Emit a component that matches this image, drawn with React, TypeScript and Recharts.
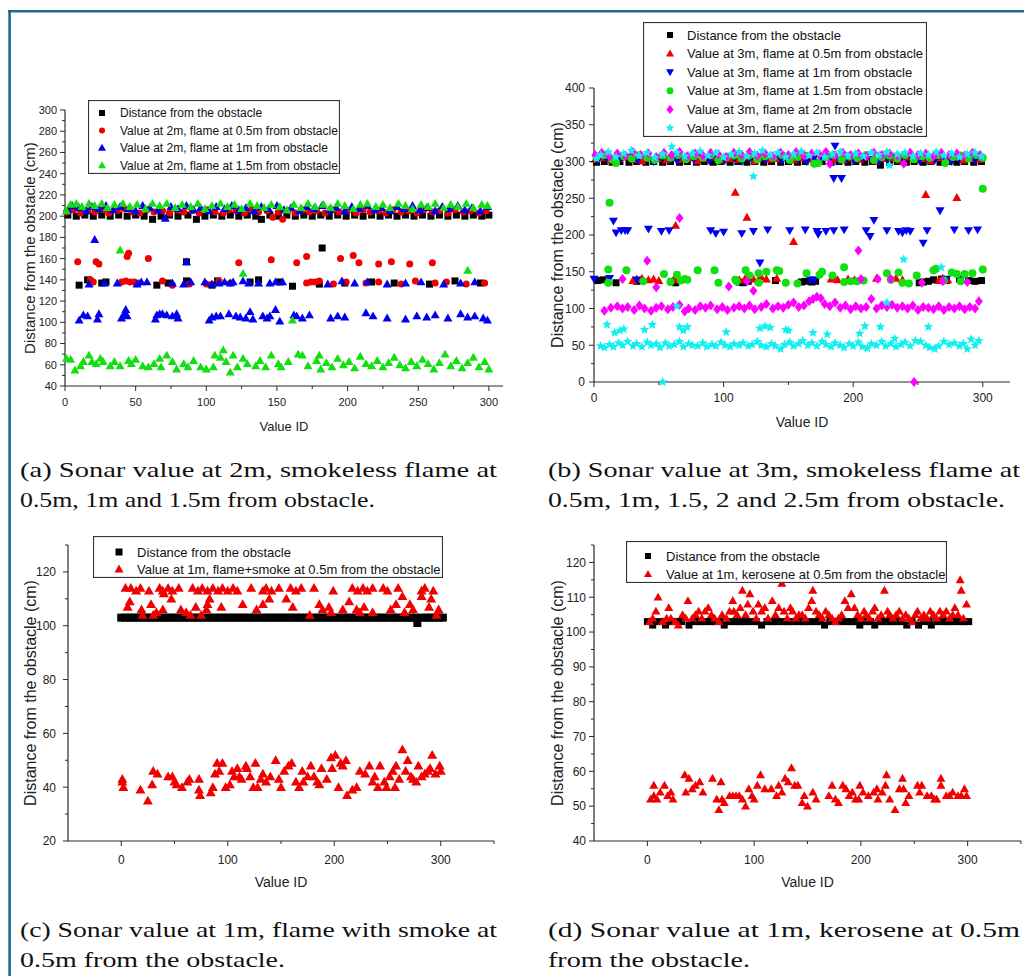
import React from "react";
import { ScatterChart, Scatter, XAxis, YAxis, Legend } from "recharts";

type Pair = [number, number];
type Kind = "square" | "circle" | "up" | "down" | "diamond" | "star";

const SANS = '"Liberation Sans", Arial, Helvetica, sans-serif';
const SERIF = '"Liberation Serif", "Times New Roman", serif';
const AX = "#2a2a2a";
const BLACK = "#000000";
const RED = "#f00000";
const BLUE = "#0000f0";
const GREEN = "#10e010";
const MAGENTA = "#ff00ff";
const CYAN = "#10f0f0";

// ---------- (a) sonar at 2m ----------
const aDistance: Pair[] = [
  [2, 201], [8, 200], [14, 201], [20, 200], [26, 201], [32, 200], [38, 201], [44, 200], [50, 201], [56, 200],
  [62, 197], [68, 200], [74, 201], [80, 200], [87, 201], [93, 197], [99, 200], [105, 201], [111, 200], [117, 201],
  [123, 200], [129, 201], [135, 200], [139, 197], [145, 201], [151, 200], [157, 201], [163, 200], [169, 201], [175, 200],
  [181, 201], [187, 200], [193, 201], [199, 200], [205, 201], [211, 200], [217, 201], [223, 200], [229, 201], [235, 200],
  [241, 201], [247, 200], [253, 201], [259, 200], [265, 201], [271, 200], [277, 201], [283, 200], [289, 201], [295, 200],
  [300, 201],
  [10, 135], [16, 140], [26, 137], [29, 138], [65, 135], [73, 137], [86, 157], [86, 139], [104, 135], [108, 139],
  [131, 138], [137, 140], [152, 138], [161, 134], [180, 136], [182, 170], [198, 137], [217, 138], [233, 137], [258, 136],
  [276, 139], [294, 137],
];
const aRed: Pair[] = [
  [1, 204], [6, 206], [11, 203], [16, 205], [21, 204], [27, 206], [31, 203], [37, 205], [42, 207], [48, 204],
  [53, 203], [58, 206], [63, 204], [69, 205], [74, 203], [79, 206], [84, 204], [90, 205], [95, 203], [101, 206],
  [106, 204], [112, 203], [116, 206], [121, 205], [127, 203], [132, 206], [137, 204], [143, 205], [147, 199], [151, 204],
  [154, 197], [158, 205], [163, 203], [168, 206], [173, 204], [178, 205], [184, 203], [189, 206], [194, 204], [200, 205],
  [206, 203], [211, 206], [216, 204], [222, 205], [227, 203], [232, 206], [238, 204], [243, 205], [249, 203], [254, 206],
  [260, 204], [265, 205], [271, 203], [276, 206], [282, 204], [287, 205], [293, 203], [298, 205],
  [9, 157], [22, 157], [24, 155], [44, 162], [45, 165], [59, 160], [123, 156], [146, 159], [164, 156], [171, 162],
  [195, 160], [204, 163], [208, 156], [222, 155], [231, 157], [244, 155], [260, 156],
  [18, 140], [20, 138], [40, 138], [43, 139], [46, 138], [49, 138], [52, 137], [69, 139], [76, 135], [88, 136],
  [100, 136], [109, 139], [117, 137], [171, 137], [174, 138], [177, 138], [180, 139], [190, 136], [199, 138], [213, 137],
  [222, 138], [238, 136], [248, 139], [262, 137], [270, 138], [284, 136], [297, 137],
];
const aBlue: Pair[] = [
  [2, 206], [5, 210], [10, 208], [15, 205], [19, 209], [24, 207], [29, 210], [34, 206], [39, 209], [45, 207],
  [50, 205], [55, 210], [60, 208], [66, 206], [71, 198], [75, 209], [80, 207], [86, 210], [91, 206], [96, 208],
  [102, 205], [107, 209], [113, 207], [118, 210], [123, 206], [128, 208], [134, 205], [139, 209], [144, 207], [150, 210],
  [155, 206], [160, 208], [166, 205], [171, 209], [176, 207], [182, 210], [187, 206], [192, 208], [198, 205], [203, 209],
  [208, 207], [214, 210], [219, 206], [224, 208], [230, 205], [235, 209], [240, 207], [246, 210], [251, 206], [256, 208],
  [262, 205], [267, 209], [272, 207], [278, 210], [283, 206], [288, 208], [294, 205], [299, 209],
  [21, 178],
  [17, 136], [28, 137], [37, 137], [51, 136], [54, 138], [58, 138], [76, 137], [84, 136], [86, 157], [89, 138],
  [99, 138], [104, 136], [109, 137], [113, 138], [117, 137], [119, 138], [126, 139], [130, 137], [137, 137], [145, 137],
  [149, 138], [154, 138], [186, 136], [196, 139], [205, 137], [214, 138], [228, 136], [241, 137], [252, 138], [268, 136],
  [280, 137], [290, 138],
  [10, 102], [13, 107], [16, 106], [23, 103], [24, 108], [40, 104], [42, 108], [43, 112], [44, 106], [64, 103],
  [65, 107], [67, 108], [69, 108], [72, 107], [76, 106], [79, 108], [80, 104], [102, 102], [104, 105], [107, 106],
  [110, 106], [116, 108], [121, 106], [124, 105], [128, 104], [131, 110], [133, 103], [140, 106], [143, 104], [145, 106],
  [149, 112], [152, 101], [162, 107], [164, 106], [168, 104], [173, 107], [188, 104], [193, 106], [198, 105], [213, 109],
  [218, 106], [228, 104], [241, 103], [249, 106], [256, 105], [262, 107], [271, 104], [280, 108], [285, 105], [290, 106],
  [296, 104], [299, 102],
];
const aGreen: Pair[] = [
  [1, 205], [4, 211], [8, 212], [12, 209], [17, 212], [21, 210], [26, 212], [30, 208], [35, 211], [41, 212],
  [46, 209], [51, 211], [57, 207], [62, 212], [67, 210], [72, 212], [78, 208], [83, 211], [89, 209], [94, 212],
  [99, 207], [104, 210], [110, 212], [115, 209], [120, 211], [125, 207], [131, 212], [136, 210], [141, 208], [146, 211],
  [152, 209], [157, 206], [162, 211], [167, 208], [172, 212], [177, 209], [183, 211], [188, 208], [193, 212], [198, 210],
  [204, 207], [209, 211], [214, 212], [220, 209], [225, 211], [230, 208], [236, 212], [241, 210], [246, 207], [252, 211],
  [257, 209], [262, 212], [268, 208], [273, 211], [278, 209], [284, 212], [289, 208], [295, 211], [299, 210],
  [39, 168], [126, 146], [161, 102], [285, 149],
  [1, 66], [4, 65], [7, 55], [11, 59], [13, 63], [17, 69], [19, 63], [22, 61], [25, 66], [27, 63],
  [32, 59], [35, 63], [39, 59], [45, 64], [47, 61], [50, 65], [55, 59], [59, 58], [63, 61], [67, 66],
  [68, 58], [72, 69], [76, 63], [79, 56], [84, 61], [87, 58], [91, 64], [96, 58], [100, 56], [105, 58],
  [106, 69], [110, 67], [112, 74], [114, 63], [117, 53], [119, 69], [122, 58], [126, 66], [129, 61], [135, 59],
  [138, 64], [142, 58], [146, 69], [151, 61], [153, 58], [158, 63], [165, 70], [168, 69], [172, 59], [178, 64],
  [181, 56], [180, 69], [185, 62], [189, 58], [193, 66], [197, 60], [201, 63], [205, 57], [209, 68], [213, 61],
  [217, 59], [221, 64], [225, 58], [229, 62], [233, 67], [237, 60], [241, 57], [245, 63], [249, 59], [253, 65],
  [257, 61], [261, 56], [265, 62], [269, 70], [273, 59], [277, 64], [281, 57], [285, 62], [289, 67], [293, 58],
  [297, 63], [300, 56],
];

// ---------- (b) sonar at 3m ----------
const bDistance: Pair[] = [
  [2, 299], [8, 300], [14, 299], [20, 300], [27, 299], [33, 300], [40, 299], [46, 300], [53, 299], [59, 300],
  [66, 299], [72, 300], [79, 299], [85, 300], [92, 299], [98, 300], [105, 299], [111, 300], [118, 299], [124, 300],
  [131, 299], [137, 300], [144, 299], [150, 300], [157, 299], [163, 300], [170, 299], [176, 300], [183, 299], [189, 300],
  [196, 299], [202, 300], [209, 299], [215, 300], [221, 295], [228, 299], [234, 300], [241, 299], [247, 300], [254, 299],
  [260, 300], [267, 299], [273, 300], [280, 299], [286, 300], [293, 299], [299, 300],
  [3, 138], [7, 139], [17, 135], [33, 137], [35, 138], [60, 137], [63, 135], [112, 136], [115, 135], [119, 137],
  [140, 138], [160, 136], [163, 137], [168, 136], [171, 137], [251, 135], [254, 136], [258, 137], [262, 139], [268, 140],
  [272, 138], [282, 140], [289, 138], [294, 137], [299, 138],
];
const bRed: Pair[] = [
  [1, 303], [7, 305], [13, 302], [19, 304], [25, 306], [31, 303], [37, 301], [43, 305], [49, 304], [56, 302],
  [62, 306], [68, 303], [74, 305], [80, 301], [87, 304], [93, 306], [99, 302], [105, 304], [112, 303], [118, 306],
  [124, 301], [130, 305], [136, 303], [143, 304], [149, 306], [155, 302], [161, 305], [167, 303], [174, 301], [180, 306],
  [186, 304], [192, 302], [198, 305], [205, 303], [211, 306], [217, 301], [223, 304], [229, 305], [236, 302], [242, 306],
  [248, 303], [254, 304], [260, 301], [267, 305], [273, 303], [279, 306], [285, 302], [291, 304], [298, 303],
  [63, 213], [109, 258], [118, 224], [154, 191], [256, 255], [280, 251], [185, 143],
  [30, 138], [33, 140], [37, 141], [42, 139], [46, 140], [50, 138], [62, 141], [65, 139], [112, 139], [117, 142],
  [123, 140], [127, 139], [129, 143], [133, 140], [141, 141], [183, 140], [188, 139], [196, 140], [201, 139], [218, 141],
  [233, 141], [238, 139], [266, 138], [269, 141], [273, 139],
];
const bBlue: Pair[] = [
  [3, 302], [9, 305], [15, 301], [21, 304], [27, 306], [34, 302], [40, 304], [46, 300], [52, 305], [58, 303],
  [64, 301], [70, 305], [77, 303], [83, 306], [89, 301], [95, 304], [101, 302], [108, 305], [114, 300], [120, 304],
  [126, 306], [132, 302], [139, 304], [145, 301], [151, 305], [157, 303], [164, 300], [170, 305], [176, 303], [182, 306],
  [186, 321], [189, 302], [195, 304], [201, 301], [207, 305], [214, 303], [220, 300], [226, 304], [232, 306], [238, 302],
  [245, 305], [251, 301], [257, 304], [263, 302], [269, 305], [276, 300], [282, 304], [288, 306], [294, 302], [299, 305],
  [185, 277], [191, 277],
  [15, 219], [17, 203], [21, 206], [24, 206], [26, 206], [42, 208], [52, 205], [58, 206], [90, 206], [94, 202],
  [100, 204], [114, 202], [123, 205], [134, 207], [151, 206], [163, 207], [172, 205], [173, 201], [179, 205], [185, 206],
  [193, 207], [210, 206], [213, 198], [216, 220], [226, 206], [235, 205], [238, 203], [241, 206], [244, 205], [254, 189],
  [257, 206], [267, 233], [278, 207], [289, 206], [296, 207],
  [0, 140], [12, 141], [33, 139], [128, 162], [167, 139], [170, 139], [272, 140], [283, 139],
];
const bGreen: Pair[] = [
  [2, 306], [8, 309], [14, 303], [17, 298], [23, 307], [29, 304], [35, 309], [41, 305], [47, 302], [53, 308],
  [59, 305], [65, 309], [71, 303], [77, 307], [84, 305], [90, 309], [96, 302], [102, 306], [108, 308], [114, 304],
  [120, 309], [126, 303], [132, 307], [138, 305], [145, 309], [151, 302], [157, 306], [163, 308], [170, 297], [173, 298],
  [179, 306], [185, 309], [191, 303], [197, 307], [203, 305], [210, 309], [216, 302], [222, 306], [228, 308], [234, 304],
  [240, 309], [247, 303], [253, 307], [259, 305], [265, 309], [271, 298], [277, 306], [283, 308], [289, 304], [295, 309],
  [300, 305],
  [11, 153], [11, 135], [12, 244], [25, 152], [38, 137], [54, 147], [59, 136], [64, 146], [67, 138], [70, 140],
  [72, 139], [80, 152], [93, 152], [96, 135], [109, 139], [110, 137], [117, 152], [120, 145], [127, 148], [127, 135],
  [133, 150], [141, 152], [143, 151], [148, 135], [157, 134], [164, 148], [174, 146], [176, 150], [184, 145], [193, 156],
  [193, 136], [198, 137], [203, 137], [208, 138], [226, 148], [229, 139], [235, 149], [238, 135], [243, 134], [249, 145],
  [262, 152], [264, 154], [270, 138], [276, 149], [280, 147], [283, 137], [286, 147], [292, 148], [300, 153], [300, 263],
];
const bMagenta: Pair[] = [
  [1, 309], [6, 312], [12, 307], [18, 311], [24, 308], [30, 313], [36, 309], [42, 311], [48, 306], [54, 312],
  [60, 309], [66, 313], [72, 307], [78, 311], [84, 308], [90, 312], [96, 310], [102, 306], [108, 312], [114, 309],
  [120, 313], [126, 308], [132, 311], [138, 307], [144, 312], [150, 309], [156, 313], [162, 308], [168, 311], [174, 310],
  [179, 313], [182, 297], [186, 308], [192, 312], [198, 309], [204, 311], [210, 307], [216, 312], [222, 309], [228, 311],
  [234, 308], [239, 297], [244, 312], [250, 309], [256, 311], [262, 307], [268, 312], [274, 309], [280, 311], [286, 308],
  [292, 312], [298, 309],
  [66, 223], [41, 165], [204, 179], [48, 129], [104, 130], [123, 124], [22, 140], [118, 137], [206, 140], [219, 140],
  [229, 140], [253, 135], [269, 137], [288, 136], [247, 0],
  [8, 97], [13, 101], [18, 103], [22, 100], [26, 102], [31, 98], [35, 104], [39, 100], [44, 97], [48, 101],
  [52, 103], [57, 99], [61, 102], [66, 105], [70, 96], [73, 100], [78, 98], [82, 103], [86, 101], [90, 104],
  [95, 99], [99, 102], [103, 98], [108, 101], [112, 103], [116, 100], [120, 104], [124, 99], [129, 102], [133, 106],
  [138, 100], [142, 103], [146, 101], [150, 105], [154, 108], [158, 102], [162, 104], [166, 110], [169, 113], [172, 116],
  [175, 114], [178, 106], [182, 103], [186, 108], [190, 101], [194, 104], [198, 99], [202, 103], [206, 100], [210, 102],
  [214, 113], [218, 100], [222, 104], [226, 102], [230, 105], [234, 101], [238, 103], [242, 100], [246, 104], [250, 98],
  [254, 102], [258, 101], [262, 99], [266, 103], [270, 98], [274, 102], [278, 100], [282, 103], [286, 99], [290, 102],
  [294, 100], [297, 110],
];
const bCyan: Pair[] = [
  [2, 304], [5, 309], [11, 313], [17, 306], [23, 311], [29, 315], [35, 308], [41, 312], [47, 305], [53, 310],
  [60, 320], [64, 312], [70, 307], [76, 311], [82, 314], [88, 308], [94, 312], [100, 306], [106, 310], [112, 313],
  [118, 307], [124, 311], [130, 315], [136, 309], [142, 312], [148, 306], [154, 310], [160, 314], [166, 308], [172, 312],
  [178, 306], [184, 310], [190, 313], [196, 308], [202, 311], [208, 307], [214, 312], [220, 309], [226, 313], [228, 295],
  [234, 310], [240, 312], [246, 307], [252, 311], [258, 309], [264, 313], [270, 308], [276, 311], [282, 306], [288, 310],
  [294, 312], [299, 307],
  [123, 280], [239, 167], [268, 156], [64, 103], [226, 108], [53, 0],
  [10, 78], [16, 67], [20, 70], [23, 72], [39, 71], [45, 78], [66, 75], [69, 70], [72, 75], [102, 68],
  [128, 73], [132, 76], [136, 74], [148, 71], [150, 70], [169, 67], [180, 65], [205, 66], [209, 76], [221, 75],
  [232, 59], [258, 75],
  [5, 49], [8, 47], [12, 51], [15, 48], [19, 53], [22, 50], [26, 55], [30, 49], [33, 52], [37, 48],
  [41, 54], [44, 50], [48, 52], [51, 47], [55, 53], [58, 49], [62, 51], [66, 55], [69, 48], [73, 52],
  [76, 50], [80, 49], [84, 53], [87, 48], [91, 51], [94, 49], [98, 54], [101, 50], [105, 48], [108, 52],
  [112, 50], [115, 53], [119, 49], [122, 51], [126, 55], [129, 50], [133, 48], [137, 52], [140, 49], [144, 45],
  [147, 51], [151, 54], [154, 49], [158, 52], [161, 56], [165, 50], [168, 53], [172, 49], [176, 55], [179, 51],
  [183, 48], [186, 53], [190, 50], [193, 47], [197, 52], [200, 49], [204, 54], [207, 48], [211, 46], [214, 52],
  [218, 50], [222, 55], [225, 49], [229, 52], [233, 48], [237, 51], [240, 54], [244, 49], [248, 56], [252, 55],
  [256, 50], [259, 47], [263, 45], [266, 49], [270, 55], [274, 51], [278, 53], [282, 49], [285, 52], [288, 45],
  [291, 58], [294, 50], [297, 56],
];

// ---------- (c) 1m, flame + smoke ----------
const cDistance: Pair[] = [
  [0, 103], [4, 103], [8, 103], [12, 103], [16, 103], [20, 103], [24, 103], [28, 103], [32, 103], [36, 103],
  [40, 103], [44, 103], [48, 103], [52, 103], [56, 103], [60, 103], [64, 103], [68, 103], [72, 103], [76, 103],
  [80, 103], [84, 103], [88, 103], [92, 103], [96, 103], [100, 103], [104, 103], [108, 103], [112, 103], [116, 103],
  [120, 103], [124, 103], [128, 103], [132, 103], [136, 103], [140, 103], [144, 103], [148, 103], [152, 103], [156, 103],
  [160, 103], [164, 103], [168, 103], [172, 103], [176, 103], [180, 103], [184, 103], [188, 103], [192, 103], [196, 103],
  [200, 103], [204, 103], [208, 103], [212, 103], [216, 103], [220, 103], [224, 103], [228, 103], [232, 103], [236, 103],
  [240, 103], [244, 103], [248, 103], [252, 103], [256, 103], [260, 103], [264, 103], [268, 103], [272, 103], [276, 103],
  [278, 101], [282, 103], [286, 103], [290, 103], [294, 103], [298, 103], [302, 103],
];
const cSmoke: Pair[] = [
  [4, 114], [9, 114], [14, 113], [18, 114], [26, 113], [36, 114], [39, 113], [44, 114], [48, 113], [54, 114],
  [67, 114], [72, 113], [76, 114], [81, 113], [86, 114], [91, 113], [95, 114], [100, 113], [105, 114], [109, 113],
  [122, 114], [133, 113], [136, 114], [141, 113], [148, 114], [159, 114], [164, 113], [169, 114], [181, 114], [199, 113],
  [217, 114], [222, 113], [227, 114], [231, 113], [236, 114], [246, 114], [250, 113], [260, 114], [282, 113], [285, 114],
  [293, 113],
  [6, 107], [8, 109], [19, 106], [20, 104], [28, 108], [30, 104], [33, 105], [39, 106], [40, 112], [47, 110],
  [56, 106], [61, 105], [65, 104], [70, 107], [75, 104], [80, 106], [81, 108], [83, 110], [94, 107], [114, 108],
  [127, 106], [133, 108], [139, 110], [155, 110], [161, 107], [177, 104], [186, 108], [189, 106], [195, 107], [197, 105],
  [208, 106], [214, 109], [221, 106], [224, 105], [228, 107], [236, 105], [253, 106], [258, 108], [264, 111], [266, 105],
  [271, 108], [274, 106], [282, 111], [289, 107], [291, 110], [296, 104], [298, 106],
  [1, 43], [1, 42], [2, 40], [18, 39], [25, 35], [29, 41], [30, 46], [34, 45], [44, 44], [48, 44],
  [50, 42], [52, 41], [57, 40], [62, 42], [64, 43], [73, 43], [73, 39], [74, 37], [84, 38], [86, 40],
  [88, 45], [90, 49], [92, 46], [95, 49], [98, 40], [102, 41], [104, 46], [106, 44], [109, 47], [111, 44],
  [113, 43], [117, 48], [118, 47], [121, 44], [124, 40], [126, 49], [128, 40], [131, 43], [133, 45], [136, 42],
  [140, 44], [145, 50], [148, 43], [150, 40], [153, 46], [157, 48], [160, 49], [164, 42], [167, 40], [170, 46],
  [171, 42], [175, 44], [178, 48], [181, 44], [184, 42], [186, 41], [188, 47], [193, 43], [197, 51], [198, 47],
  [201, 52], [204, 40], [206, 49], [208, 48], [211, 50], [212, 37], [217, 39], [221, 40], [224, 46], [229, 45],
  [233, 48], [236, 42], [238, 44], [241, 40], [243, 48], [247, 42], [249, 40], [252, 44], [255, 46], [257, 40],
  [258, 48], [261, 43], [264, 54], [267, 46], [269, 50], [272, 44], [274, 43], [277, 42], [279, 48], [282, 44],
  [285, 45], [288, 46], [290, 47], [292, 52], [295, 45], [299, 48], [300, 46],
];

// ---------- (d) 1m, kerosene ----------
const dDistance: Pair[] = [
  [0, 103], [5, 102], [8, 103], [13, 103], [17, 102], [22, 103], [27, 103], [32, 103], [39, 102], [44, 103],
  [49, 103], [54, 103], [59, 103], [64, 103], [69, 103], [72, 102], [77, 103], [82, 103], [87, 103], [92, 103],
  [97, 103], [102, 103], [107, 102], [112, 103], [117, 103], [122, 103], [127, 103], [132, 103], [137, 103], [142, 103],
  [147, 103], [152, 103], [157, 103], [162, 103], [166, 102], [171, 103], [176, 103], [181, 103], [186, 103], [191, 103],
  [196, 103], [199, 102], [204, 103], [209, 103], [213, 102], [218, 103], [223, 103], [228, 103], [233, 103], [238, 103],
  [243, 102], [248, 103], [254, 102], [259, 103], [264, 103], [266, 102], [271, 103], [276, 103], [281, 103], [286, 103],
  [291, 103], [296, 103], [301, 103],
];
const dKerosene: Pair[] = [
  [2, 103], [5, 104], [8, 106], [10, 110], [14, 103], [18, 104], [20, 107], [22, 104], [26, 103], [29, 102],
  [33, 105], [36, 104], [38, 109], [42, 104], [45, 105], [48, 106], [51, 104], [54, 106], [57, 107], [60, 105],
  [63, 104], [67, 103], [70, 105], [74, 104], [77, 106], [80, 109], [81, 106], [84, 105], [87, 107], [89, 112],
  [92, 105], [94, 108], [96, 111], [99, 106], [102, 104], [104, 108], [107, 106], [110, 107], [113, 104], [117, 109],
  [120, 105], [123, 107], [126, 114], [128, 106], [131, 104], [134, 107], [136, 106], [139, 104], [142, 105], [145, 105],
  [148, 104], [151, 107], [154, 109], [155, 112], [158, 106], [161, 105], [164, 104], [167, 106], [170, 105], [173, 104],
  [176, 103], [179, 104], [182, 105], [185, 109], [188, 107], [191, 111], [194, 107], [197, 105], [200, 104], [203, 106],
  [205, 105], [208, 104], [211, 106], [213, 107], [216, 104], [219, 105], [222, 112], [225, 106], [227, 105], [230, 104],
  [233, 105], [236, 106], [239, 104], [242, 105], [245, 104], [248, 103], [251, 105], [253, 106], [256, 104], [259, 105],
  [262, 104], [265, 106], [268, 105], [271, 104], [274, 106], [277, 105], [280, 106], [283, 104], [286, 105], [288, 107],
  [291, 105], [293, 115], [294, 112], [296, 104], [299, 108],
  [3, 52], [6, 56], [6, 53], [9, 52], [12, 54], [16, 56], [19, 53], [22, 54], [24, 52], [35, 59],
  [36, 54], [39, 58], [42, 55], [45, 56], [49, 57], [52, 54], [61, 58], [65, 52], [67, 49], [69, 57],
  [70, 52], [72, 51], [77, 53], [80, 53], [83, 53], [86, 53], [89, 52], [92, 50], [95, 55], [98, 53],
  [100, 52], [103, 56], [106, 59], [110, 55], [116, 55], [121, 53], [123, 56], [126, 54], [129, 58], [132, 57],
  [135, 61], [138, 56], [141, 56], [145, 51], [147, 53], [150, 50], [155, 54], [158, 52], [170, 53], [173, 56],
  [176, 52], [179, 51], [183, 56], [186, 55], [189, 53], [192, 54], [195, 52], [198, 52], [199, 56], [202, 54],
  [207, 53], [212, 54], [215, 55], [216, 52], [220, 54], [223, 56], [224, 59], [227, 52], [232, 49], [236, 55],
  [239, 58], [240, 55], [242, 51], [245, 53], [253, 56], [255, 54], [257, 56], [262, 53], [266, 53], [269, 52],
  [271, 52], [275, 58], [275, 56], [280, 53], [283, 53], [286, 54], [291, 53], [294, 53], [297, 55], [299, 53],
];

// ---------- tick values ----------
const aYMajor = [40, 60, 80, 100, 120, 140, 160, 180, 200, 220, 240, 260, 280, 300];
const aYMinor = [50, 70, 90, 110, 130, 150, 170, 190, 210, 230, 250, 270, 290];
const aXMajor = [0, 50, 100, 150, 200, 250, 300];
const aXMinor = [25, 75, 125, 175, 225, 275];
const bYMajor = [0, 50, 100, 150, 200, 250, 300, 350, 400];
const bYMinor = [25, 75, 125, 175, 225, 275, 325, 375];
const bXMajor = [0, 100, 200, 300];
const bXMinor = [50, 150, 250];
const cYMajor = [20, 40, 60, 80, 100, 120];
const cYMinor = [30, 50, 70, 90, 110, 130];
const dYMajor = [40, 50, 60, 70, 80, 90, 100, 110, 120];
const dYMinor = [45, 55, 65, 75, 85, 95, 105, 115, 125];
const cdXMajor = [0, 100, 200, 300];
const cdXMinor = [50, 150, 250, 350];

const toPts = (arr: Pair[]) => arr.map(([x, y]) => ({ x, y }));

function Marker({ cx, cy, kind, color, size }: { cx: number; cy: number; kind: Kind; color: string; size: number }) {
  if (cx == null || cy == null || isNaN(cx) || isNaN(cy)) return null;
  const h = size / 2;
  switch (kind) {
    case "square":
      return <rect x={cx - h} y={cy - h} width={size} height={size} fill={color} />;
    case "circle":
      return <circle cx={cx} cy={cy} r={h} fill={color} />;
    case "up":
      return <path d={`M${cx},${cy - h}L${cx + h},${cy + h * 0.75}L${cx - h},${cy + h * 0.75}Z`} fill={color} />;
    case "down":
      return <path d={`M${cx},${cy + h}L${cx + h},${cy - h * 0.75}L${cx - h},${cy - h * 0.75}Z`} fill={color} />;
    case "diamond":
      return <path d={`M${cx},${cy - h}L${cx + h * 0.8},${cy}L${cx},${cy + h}L${cx - h * 0.8},${cy}Z`} fill={color} />;
    case "star": {
      let d = "";
      for (let i = 0; i < 10; i++) {
        const r = i % 2 === 0 ? h : h * 0.45;
        const a = -Math.PI / 2 + (i * Math.PI) / 5;
        d += `${i === 0 ? "M" : "L"}${cx + r * Math.cos(a)},${cy + r * Math.sin(a)}`;
      }
      return <path d={d + "Z"} fill={color} />;
    }
  }
  return null;
}

type SeriesDef = { name: string; kind: Kind; color: string; size: number; data: Pair[] };
type LegendDef = {
  left: number; top: number; width: number; height: number;
  fs: number; y0: number; rowH: number; symX: number; textX: number;
};
type PanelDef = {
  left: number; top: number; width: number; height: number;
  margin: { top: number; right: number; bottom: number; left: number };
  xDomain: [number, number]; yDomain: [number, number];
  xMajor: number[]; xMinor: number[]; yMajor: number[]; yMinor: number[];
  yAxisWidth: number; xAxisHeight: number;
  tickFs: number; xTitleFs: number; yTitleFs: number; yTitleOffset: number;
  xLabelGap: number; yLabelGap: number;
  series: SeriesDef[]; legend: LegendDef;
};

function XTick(props: any) {
  const { x, y, payload, majors, fs, gap } = props;
  const major = majors.includes(payload.value);
  return (
    <g>
      <line x1={x} x2={x} y1={y} y2={y + (major ? 5 : 3)} stroke={AX} strokeWidth={1} />
      {major && (
        <text x={x} y={y + gap} dy="0.72em" textAnchor="middle" fontSize={fs} fontFamily={SANS} fill="#222">
          {payload.value}
        </text>
      )}
    </g>
  );
}

function YTick(props: any) {
  const { x, y, payload, majors, fs, gap } = props;
  const major = majors.includes(payload.value);
  return (
    <g>
      <line x1={x - (major ? 5 : 3)} x2={x} y1={y} y2={y} stroke={AX} strokeWidth={1} />
      {major && (
        <text x={x - gap} y={y} dy="0.36em" textAnchor="end" fontSize={fs} fontFamily={SANS} fill="#222">
          {payload.value}
        </text>
      )}
    </g>
  );
}

function LegendBox({ def, series }: { def: LegendDef; series: SeriesDef[] }) {
  return (
    <svg width={def.width} height={def.height} style={{ display: "block", background: "#fff" }}>
      <rect x={0.5} y={0.5} width={def.width - 1} height={def.height - 1} fill="#fff" stroke="#333" strokeWidth={1.2} />
      {series.map((s, i) => {
        const cy = def.y0 + i * def.rowH;
        return (
          <g key={s.name}>
            <Marker cx={def.symX} cy={cy} kind={s.kind} color={s.color} size={s.size - 1} />
            <text x={def.textX} y={cy} dy="0.36em" fontSize={def.fs} fontFamily={SANS} fill="#111">
              {s.name}
            </text>
          </g>
        );
      })}
    </svg>
  );
}

function Panel({ p }: { p: PanelDef }) {
  const xTicks = [...p.xMajor, ...p.xMinor].sort((a, b) => a - b);
  const yTicks = [...p.yMajor, ...p.yMinor].sort((a, b) => a - b);
  return (
    <div style={{ position: "absolute", left: p.left, top: p.top, width: p.width, height: p.height }}>
      <ScatterChart width={p.width} height={p.height} margin={p.margin}>
        <XAxis
          type="number"
          dataKey="x"
          domain={p.xDomain}
          ticks={xTicks}
          interval={0}
          tickLine={false}
          tickSize={0}
          tickMargin={0}
          height={p.xAxisHeight}
          axisLine={{ stroke: AX, strokeWidth: 1.2 }}
          tick={(t: any) => <XTick {...t} majors={p.xMajor} fs={p.tickFs} gap={p.xLabelGap} />}
          label={{ value: "Value ID", position: "insideBottom", offset: 0, fill: "#222", fontSize: p.xTitleFs, fontFamily: SANS }}
        />
        <YAxis
          type="number"
          dataKey="y"
          domain={p.yDomain}
          ticks={yTicks}
          interval={0}
          tickLine={false}
          tickSize={0}
          tickMargin={0}
          width={p.yAxisWidth}
          axisLine={{ stroke: AX, strokeWidth: 1.2 }}
          tick={(t: any) => <YTick {...t} majors={p.yMajor} fs={p.tickFs} gap={p.yLabelGap} />}
          label={{
            value: "Distance from the obstacle (cm)",
            angle: -90,
            position: "insideLeft",
            offset: p.yTitleOffset,
            fill: "#222",
            fontSize: p.yTitleFs,
            fontFamily: SANS,
            style: { textAnchor: "middle" },
          }}
        />
        {p.series.map((s) => (
          <Scatter
            key={s.name}
            name={s.name}
            data={toPts(s.data)}
            fill={s.color}
            isAnimationActive={false}
            shape={(sp: any) => <Marker cx={sp.cx} cy={sp.cy} kind={s.kind} color={s.color} size={s.size} />}
          />
        ))}
        <Legend
          layout="vertical"
          align="center"
          verticalAlign="middle"
          wrapperStyle={{ left: p.legend.left, top: p.legend.top, width: p.legend.width, height: p.legend.height }}
          content={() => <LegendBox def={p.legend} series={p.series} />}
        />
      </ScatterChart>
    </div>
  );
}

const panelA: PanelDef = {
  left: 0, top: 90, width: 520, height: 350,
  margin: { top: 20, right: 17, bottom: 9, left: 20 },
  xDomain: [0, 310], yDomain: [40, 300],
  xMajor: aXMajor, xMinor: aXMinor, yMajor: aYMajor, yMinor: aYMinor,
  yAxisWidth: 45, xAxisHeight: 45,
  tickFs: 11, xTitleFs: 13, yTitleFs: 15, yTitleOffset: 10,
  xLabelGap: 12, yLabelGap: 8,
  series: [
    { name: "Distance from the obstacle", kind: "square", color: BLACK, size: 7, data: aDistance },
    { name: "Value at 2m, flame at 0.5m from obstacle", kind: "circle", color: RED, size: 7, data: aRed },
    { name: "Value at 2m, flame at 1m from obstacle", kind: "up", color: BLUE, size: 9, data: aBlue },
    { name: "Value at 2m, flame at 1.5m from obstacle", kind: "up", color: GREEN, size: 9, data: aGreen },
  ],
  legend: { left: 88, top: 10, width: 252, height: 74, fs: 12, y0: 13, rowH: 17.4, symX: 14, textX: 32 },
};

const panelB: PanelDef = {
  left: 540, top: 10, width: 484, height: 430,
  margin: { top: 78, right: 14, bottom: 13, left: 14 },
  xDomain: [0, 321], yDomain: [0, 400],
  xMajor: bXMajor, xMinor: bXMinor, yMajor: bYMajor, yMinor: bYMinor,
  yAxisWidth: 40, xAxisHeight: 45,
  tickFs: 12, xTitleFs: 14, yTitleFs: 16, yTitleOffset: 3,
  xLabelGap: 11, yLabelGap: 9,
  series: [
    { name: "Distance from the obstacle", kind: "square", color: BLACK, size: 7, data: bDistance },
    { name: "Value at 3m, flame at 0.5m from obstacle", kind: "up", color: RED, size: 9, data: bRed },
    { name: "Value at 3m, flame at 1m from obstacle", kind: "down", color: BLUE, size: 9, data: bBlue },
    { name: "Value at 3m, flame at 1.5m from obstacle", kind: "circle", color: GREEN, size: 8, data: bGreen },
    { name: "Value at 3m, flame at 2m from obstacle", kind: "diamond", color: MAGENTA, size: 10, data: bMagenta },
    { name: "Value at 3m, flame at 2.5m from obstacle", kind: "star", color: CYAN, size: 10, data: bCyan },
  ],
  legend: { left: 103, top: 12, width: 284, height: 115, fs: 13, y0: 13, rowH: 18.6, symX: 27, textX: 44 },
};

const panelC: PanelDef = {
  left: 0, top: 530, width: 520, height: 380,
  margin: { top: 15, right: 26, bottom: 23, left: 20 },
  xDomain: [-50, 350], yDomain: [20, 130],
  xMajor: cdXMajor, xMinor: cdXMinor, yMajor: cYMajor, yMinor: cYMinor,
  yAxisWidth: 48, xAxisHeight: 46,
  tickFs: 12, xTitleFs: 14, yTitleFs: 16, yTitleOffset: 10,
  xLabelGap: 14, yLabelGap: 12,
  series: [
    { name: "Distance from the obstacle", kind: "square", color: BLACK, size: 8, data: cDistance },
    { name: "Value at 1m, flame+smoke at 0.5m from the obstacle", kind: "up", color: RED, size: 10, data: cSmoke },
  ],
  legend: { left: 93, top: 6, width: 350, height: 42, fs: 13, y0: 16, rowH: 17, symX: 26, textX: 44 },
};

const panelD: PanelDef = {
  left: 540, top: 530, width: 484, height: 380,
  margin: { top: 15, right: 3, bottom: 23, left: 14 },
  xDomain: [-50, 350], yDomain: [40, 125],
  xMajor: cdXMajor, xMinor: cdXMinor, yMajor: dYMajor, yMinor: dYMinor,
  yAxisWidth: 40, xAxisHeight: 46,
  tickFs: 12, xTitleFs: 14, yTitleFs: 16, yTitleOffset: 3,
  xLabelGap: 14, yLabelGap: 8,
  series: [
    { name: "Distance from the obstacle", kind: "square", color: BLACK, size: 7, data: dDistance },
    { name: "Value at 1m, kerosene at 0.5m from the obstacle", kind: "up", color: RED, size: 9, data: dKerosene },
  ],
  legend: { left: 86, top: 11, width: 321, height: 42, fs: 13, y0: 15, rowH: 18, symX: 22, textX: 40 },
};

const captions = [
  { x: 20, y: 477, w: 477, text: "(a) Sonar value at 2m, smokeless flame at" },
  { x: 20, y: 507, w: 355, text: "0.5m, 1m and 1.5m from obstacle." },
  { x: 548, y: 477, w: 472, text: "(b) Sonar value at 3m, smokeless flame at" },
  { x: 548, y: 507, w: 457, text: "0.5m, 1m, 1.5, 2 and 2.5m from obstacle." },
  { x: 20, y: 937, w: 477, text: "(c) Sonar value at 1m, flame with smoke at" },
  { x: 20, y: 967, w: 265, text: "0.5m from the obstacle." },
  { x: 548, y: 937, w: 472, text: "(d) Sonar value at 1m, kerosene at 0.5m" },
  { x: 548, y: 967, w: 202, text: "from the obstacle." },
];

export default function App() {
  return (
    <div style={{ position: "absolute", left: 0, top: 0, width: 1024, height: 976, overflow: "hidden", background: "#fff" }}>
      <svg width={1024} height={976} style={{ position: "absolute", left: 0, top: 0 }}>
        <line x1={8} x2={1024} y1={11.3} y2={11.3} stroke="#1d6a8e" strokeWidth={2.6} />
        <line x1={9.6} x2={9.6} y1={10} y2={976} stroke="#1d6a8e" strokeWidth={2.6} />
        {captions.map((c) => (
          <text
            key={c.text}
            x={c.x}
            y={c.y}
            fontSize={21}
            fontFamily={SERIF}
            fill="#111"
            textLength={c.w}
            lengthAdjust="spacingAndGlyphs"
          >
            {c.text}
          </text>
        ))}
      </svg>
      <Panel p={panelA} />
      <Panel p={panelB} />
      <Panel p={panelC} />
      <Panel p={panelD} />
    </div>
  );
}
